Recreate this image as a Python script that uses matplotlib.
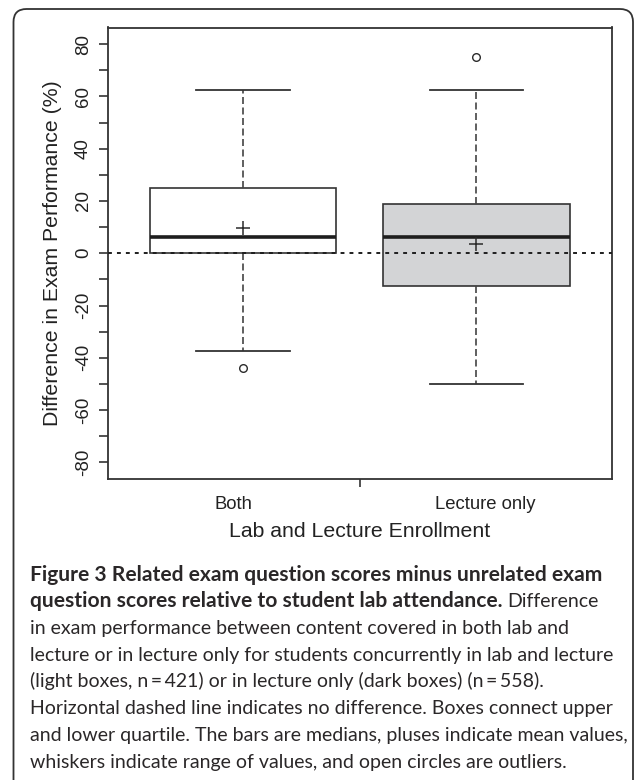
import matplotlib
matplotlib.use("Agg")
from matplotlib import pyplot as plt
from matplotlib.patches import FancyBboxPatch
import numpy as np

# box summaries (percent difference)
groups = ["Both", "Lecture only"]
q1 = [0.0, -12.5]
medians = [6.25, 6.25]
q3 = [25.0, 18.75]
whisker_lo = [-37.5, -50.0]
whisker_hi = [62.5, 62.5]
means = [9.5, 3.7]
outliers = [[-43.75], [75.0]]
box_colors = ["white", "#d3d4d6"]

yticks_major = np.arange(-80, 81, 20)
yticks_minor = np.arange(-70, 71, 20)

caption_bold = [
    "Figure 3 Related exam question scores minus unrelated exam",
    "question scores relative to student lab attendance.",
]
caption_plain = [
    "Difference",
    "in exam performance between content covered in both lab and",
    "lecture or in lecture only for students concurrently in lab and lecture",
    "(light boxes, n\u2009=\u2009421) or in lecture only (dark boxes) (n\u2009=\u2009558).",
    "Horizontal dashed line indicates no difference. Boxes connect upper",
    "and lower quartile. The bars are medians, pluses indicate mean values,",
    "whiskers indicate range of values, and open circles are outliers.",
]

plt.rcParams["font.family"] = ["Liberation Sans", "DejaVu Sans"]
plt.rcParams["axes.unicode_minus"] = False
W, H = 635, 780
fig = plt.figure(figsize=(W / 100, H / 100), dpi=100)
ax = fig.add_axes([107.7 / W, 1 - 479 / H, (611.5 - 107.7) / W, (479 - 27.5) / H])

dark = "#2b2b2b"
stats = [
    dict(label=g, q1=a, med=m, q3=b, whislo=lo, whishi=hi, mean=mu, fliers=f)
    for g, a, m, b, lo, hi, mu, f in zip(
        groups, q1, medians, q3, whisker_lo, whisker_hi, means, outliers
    )
]
positions = np.arange(1, len(groups) + 1)
bp = ax.bxp(
    stats,
    positions=positions,
    widths=0.8,
    capwidths=0.4,
    showmeans=True,
    patch_artist=True,
    boxprops=dict(edgecolor="#333333", linewidth=1.2),
    medianprops=dict(color="#1e1e1e", linewidth=2.6),
    whiskerprops=dict(color="#444444", linewidth=1.2, linestyle=(0, (4.2, 2.1))),
    capprops=dict(color="#333333", linewidth=1.3),
    meanprops=dict(marker="+", markersize=10, markeredgecolor=dark, markeredgewidth=1.1),
    flierprops=dict(marker="o", markersize=5.5, markerfacecolor="none",
                    markeredgecolor=dark, markeredgewidth=1.0),
)
for patch, c in zip(bp["boxes"], box_colors):
    patch.set_facecolor(c)

ax.axhline(0, color="#1e1e1e", linewidth=1.4, linestyle=(0, (2.0, 2.6)), zorder=5)

ax.set_xlim(0.42, 2.58)
ax.set_ylim(-86.4, 86.4)
for sp in ax.spines.values():
    sp.set_linewidth(1.3)
    sp.set_color("#333333")

ax.set_yticks(yticks_major)
ax.set_yticks(yticks_minor, minor=True)
ax.tick_params(axis="y", which="both", length=6.7, width=1.2, color="#333333",
               pad=4.7, labelsize=13.5, labelcolor="#222222")
plt.setp(ax.get_yticklabels(), rotation=90, va="center")

ax.set_xticks([positions.mean()], [""])
ax.set_xticks(positions + np.array([-0.04, 0.04]), groups, minor=True)
ax.tick_params(axis="x", which="major", length=6, width=1.2, color="#333333")
ax.tick_params(axis="x", which="minor", length=0, pad=12.5, labelsize=13.3,
               labelcolor="#222222")

ax.set_ylabel("Difference in Exam Performance (%)", fontsize=15.3, color="#222222")
ax.set_xlabel("Lab and Lecture Enrollment", fontsize=15.3, color="#222222")
ax.yaxis.set_label_coords(-0.09, 0.5)
ax.xaxis.set_label_coords(0.5, -0.095)

# rounded frame around the whole figure
frame = FancyBboxPatch((0.135, -0.3), 6.33 - 0.135, 7.71 + 0.3,
                       boxstyle="round,pad=0,rounding_size=0.13",
                       transform=fig.dpi_scale_trans, fill=False,
                       linewidth=1.3, edgecolor="#333333")
fig.add_artist(frame)

# caption
cap_font = ["Lato", "DejaVu Sans"]
renderer = fig.canvas.get_renderer()


def fitted_size(s, weight, target_px):
    t = fig.text(0, 0, s, fontsize=10, family=cap_font, weight=weight)
    w = t.get_window_extent(renderer).width
    t.remove()
    return 10 * target_px / w


bold_size = fitted_size(caption_bold[0], "bold", 573)
plain_size = fitted_size(caption_plain[2], "normal", 584)
x0 = 30.4 / W
base0, step = 580.7, 26.7
cap_color = "#2a2728"

for i, s in enumerate(caption_bold):
    t = fig.text(x0, 1 - (base0 + i * step) / H, s, fontsize=bold_size,
                 family=cap_font, weight="bold", va="baseline", color=cap_color)
end_px = t.get_window_extent(renderer).x1
fig.text((end_px + 4.0) / W, 1 - (base0 + step) / H, caption_plain[0],
         fontsize=plain_size, family=cap_font, weight="normal",
         va="baseline", color=cap_color)
for i, s in enumerate(caption_plain[1:]):
    fig.text(x0, 1 - (base0 + (i + 2) * step) / H, s, fontsize=plain_size,
             family=cap_font, weight="normal", va="baseline", color=cap_color)

fig.savefig("out.png", dpi=100)
